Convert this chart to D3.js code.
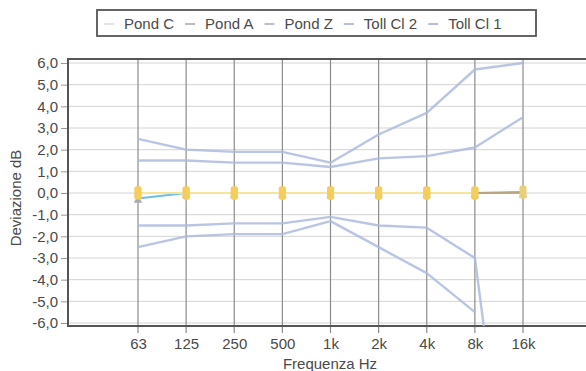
<!DOCTYPE html>
<html>
<head>
<meta charset="utf-8">
<script src="https://cdn.jsdelivr.net/npm/d3@7"></script>
<style>
  html, body { margin: 0; padding: 0; background: #fff; }
  svg { display: block; font-family: "Liberation Sans", Arial, sans-serif; }
</style>
</head>
<body>
<svg id="chart" width="586" height="371"></svg>
<script>
// ---- data ----
const freqs = ["63", "125", "250", "500", "1k", "2k", "4k", "8k", "16k"];
const yTicks = [6, 5, 4, 3, 2, 1, 0, -1, -2, -3, -4, -5, -6];
const toll1Upper = [1.5, 1.5, 1.4, 1.4, 1.2, 1.6, 1.7, 2.1, 3.5];
const toll1Lower = [-1.5, -1.5, -1.4, -1.4, -1.1, -1.5, -1.6, -3.0, -20];
const toll2Upper = [2.5, 2.0, 1.9, 1.9, 1.4, 2.7, 3.7, 5.7, 6.0];
const toll2Lower = [-2.5, -2.0, -1.9, -1.9, -1.3, -2.5, -3.7, -5.5, null];
const pondC = [-0.25, 0, 0, 0, 0, 0, 0, 0, 0];
const pondA = [0, 0, 0, 0, 0, 0, 0, 0, null];
const pondZ = [0, 0, 0, 0, 0, 0, 0, 0, 0.05];
const legendNames = ["Pond C", "Pond A", "Pond Z", "Toll Cl 2", "Toll Cl 1"];

// ---- layout ----
const svg = d3.select("#chart");
const plot = { left: 68, right: 590, top: 59, bottom: 326 };
const x = d3.scalePoint().domain(freqs).range([138, 523]);
const y = d3.scaleLinear().domain([-6, 6]).range([323, 63]);

const tollColor = "#aebbde";
const colors = {
  "Pond C": "#6fbfe9",
  "Pond A": "#f5e49c",
  "Pond Z": "#b8a47e",
  "Toll Cl 2": tollColor,
  "Toll Cl 1": tollColor
};
const legendColors = {
  "Pond C": "#dfe6ee",
  "Pond A": "#bcbcc6",
  "Pond Z": "#bcc0cc",
  "Toll Cl 2": "#b7bfd6",
  "Toll Cl 1": "#b7bfd6"
};

svg.append("defs").append("clipPath").attr("id", "clip")
  .append("rect")
  .attr("x", plot.left).attr("y", plot.top)
  .attr("width", plot.right - plot.left).attr("height", plot.bottom - plot.top);

// horizontal gridlines
svg.append("g").selectAll("line").data(yTicks).join("line")
  .attr("x1", plot.left).attr("x2", plot.right)
  .attr("y1", d => y(d)).attr("y2", d => y(d))
  .attr("stroke", "#d4d4d4").attr("stroke-width", 1);

// vertical gridlines (extend below axis as ticks)
svg.append("g").selectAll("line").data(freqs).join("line")
  .attr("x1", d => x(d)).attr("x2", d => x(d))
  .attr("y1", plot.top).attr("y2", plot.bottom + 7)
  .attr("stroke", "#8c8c8c").attr("stroke-width", 1.2);

// y axis labels + tick marks
const yAxis = d3.axisLeft(y).tickValues(yTicks).tickSize(7).tickPadding(3)
  .tickFormat(d => d3.format(".1f")(d).replace(".", ",").replace("−", "-"));
const gy = svg.append("g").attr("transform", `translate(${plot.left},0)`).call(yAxis);
gy.select(".domain").remove();
gy.selectAll(".tick line").attr("stroke", "#999");
gy.selectAll(".tick text")
  .attr("font-size", 15).attr("fill", "#4a4a4a")
  .attr("font-family", "Liberation Sans, Arial, sans-serif");

// x axis labels
const xAxis = d3.axisBottom(x).tickSize(0).tickPadding(12);
const gx = svg.append("g").attr("transform", `translate(0,${plot.bottom})`).call(xAxis);
gx.select(".domain").remove();
gx.selectAll(".tick text")
  .attr("font-size", 15).attr("fill", "#4a4a4a")
  .attr("font-family", "Liberation Sans, Arial, sans-serif");

// frame
svg.append("path")
  .attr("d", `M${plot.right},${plot.top}H${plot.left}V${plot.bottom}H${plot.right}`)
  .attr("fill", "none").attr("stroke", "#555").attr("stroke-width", 2);

// series
const line = d3.line()
  .defined(d => d.v !== null)
  .x(d => x(d.f)).y(d => y(d.v));
const toPts = arr => freqs.map((f, i) => ({ f, v: arr[i] }));

const g = svg.append("g").attr("clip-path", "url(#clip)");
[
  ["Toll Cl 2", toll2Upper], ["Toll Cl 2", toll2Lower],
  ["Toll Cl 1", toll1Upper], ["Toll Cl 1", toll1Lower]
].forEach(([name, arr]) => {
  g.append("path").datum(toPts(arr))
    .attr("d", line).attr("fill", "none")
    .attr("stroke", colors[name]).attr("stroke-width", 2.4)
    .attr("stroke-opacity", 0.85).attr("stroke-linejoin", "round");
});

g.append("path").datum(toPts(pondC)).attr("d", line).attr("fill", "none")
  .attr("stroke", colors["Pond C"]).attr("stroke-width", 2);
g.append("path").datum(toPts(pondZ)).attr("d", line).attr("fill", "none")
  .attr("stroke", colors["Pond Z"]).attr("stroke-width", 2);
g.append("path").datum(toPts(pondA)).attr("d", line).attr("fill", "none")
  .attr("stroke", colors["Pond A"]).attr("stroke-width", 2);

// markers
g.append("g").selectAll("path").data(toPts(pondC)).join("path")
  .attr("d", d3.symbol().type(d3.symbolTriangle).size(30))
  .attr("transform", d => `translate(${x(d.f)},${y(d.v) + 2})`)
  .attr("fill", "#a7a9b8");
g.append("g").selectAll("rect").data(toPts(pondZ)).join("rect")
  .attr("x", d => x(d.f) - 3.5).attr("y", d => y(d.v) - 6.5)
  .attr("width", 7).attr("height", 13).attr("rx", 2)
  .attr("fill", "#e9cf77");
g.append("g").selectAll("rect").data(toPts(pondA).filter(d => d.v !== null)).join("rect")
  .attr("x", d => x(d.f) - 3.5).attr("y", d => y(d.v) - 6.5)
  .attr("width", 7).attr("height", 13).attr("rx", 2)
  .attr("fill", "#f6cd55").attr("fill-opacity", 0.85);

// axis titles
svg.append("text")
  .attr("transform", "translate(21,198) rotate(-90)")
  .attr("text-anchor", "middle")
  .attr("font-size", 15).attr("fill", "#4a4a4a")
  .text("Deviazione dB");
svg.append("text")
  .attr("x", 330).attr("y", 369)
  .attr("text-anchor", "middle")
  .attr("font-size", 15).attr("fill", "#4a4a4a")
  .text("Frequenza Hz");

// legend
const lg = svg.append("g");
lg.append("rect")
  .attr("x", 97).attr("y", 10).attr("width", 439).attr("height", 26)
  .attr("fill", "#fff").attr("stroke", "#555").attr("stroke-width", 1.8);
let cx = 104;
legendNames.forEach(name => {
  lg.append("line")
    .attr("x1", cx).attr("x2", cx + 10).attr("y1", 24).attr("y2", 24)
    .attr("stroke", legendColors[name]).attr("stroke-width", 2);
  const t = lg.append("text")
    .attr("x", cx + 20).attr("y", 29)
    .attr("font-size", 15).attr("fill", "#4a4a4a")
    .text(name);
  cx += 20 + t.node().getComputedTextLength() + 11;
});
</script>
</body>
</html>
